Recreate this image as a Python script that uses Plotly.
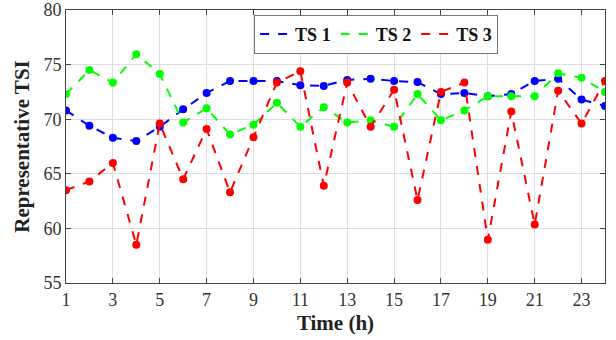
import plotly.graph_objects as go

hours = list(range(1, 25))
ts1 = [70.8, 69.4, 68.3, 68.0, 69.3, 70.9, 72.4, 73.5, 73.5, 73.5, 73.1, 73.05,
       73.6, 73.7, 73.5, 73.4, 72.3, 72.4, 72.1, 72.3, 73.5, 73.7, 71.8, 71.2]
ts2 = [72.3, 74.5, 73.35, 75.95, 74.15, 69.7, 71.0, 68.6, 69.5, 71.5, 69.3, 71.1,
       69.7, 69.9, 69.3, 72.3, 69.9, 70.8, 72.1, 72.1, 72.1, 74.2, 73.8, 72.5]
ts3 = [63.5, 64.3, 66.0, 58.5, 69.6, 64.5, 69.1, 63.3, 68.35, 73.35, 74.4, 63.9,
       73.35, 69.3, 72.7, 62.6, 72.5, 73.35, 58.95, 70.7, 60.35, 72.6, 69.6, 73.5]
names = ["TS 1", "TS 2", "TS 3"]
colors = ["#0000FF", "#00FF00", "#FF0000"]
xticks = list(range(1, 24, 2))
yticks = [55, 60, 65, 70, 75, 80]

fig = go.Figure()
for name, ys, c in zip(names, [ts1, ts2, ts3], colors):
    fig.add_trace(go.Scatter(x=hours, y=ys, mode="lines+markers", showlegend=False,
                             line=dict(color=c, width=2, dash="dash"),
                             marker=dict(color=c, size=8)))
for name, c in zip(names, colors):
    fig.add_trace(go.Scatter(x=[None], y=[None], mode="lines", name="<b>" + name + "</b>",
                             line=dict(color=c, width=2, dash="dash")))

axis_common = dict(showline=True, linecolor="#444444", linewidth=1, mirror="ticks",
                   ticks="inside", ticklen=5, tickcolor="#444444", automargin=False,
                   showgrid=True, gridcolor="#DDDDDD", gridwidth=1, zeroline=False,
                   tickfont=dict(family="Liberation Serif", size=18, color="#333333"))

fig.update_layout(
    width=616, height=340,
    margin=dict(l=66, r=11, t=10, b=57),
    paper_bgcolor="white", plot_bgcolor="white",
    xaxis=dict(range=[1, 24], tickvals=xticks,
               title=dict(text="<b>Time (h)</b>", standoff=6,
                          font=dict(family="Liberation Serif", size=21, color="#222222")),
               **axis_common),
    yaxis=dict(range=[55, 80], tickvals=yticks,
               title=dict(text="<b>Representative TSI</b>", standoff=8,
                          font=dict(family="Liberation Serif", size=21, color="#222222")),
               **axis_common),
    legend=dict(orientation="h", x=0.349, y=0.982, xanchor="left", yanchor="top",
                bgcolor="white", bordercolor="#777777", borderwidth=1,
                font=dict(family="Liberation Serif", size=18, color="#111111"),
                itemwidth=30, tracegroupgap=0),
    showlegend=True,
)
fig.write_html("out.html", config={"displayModeBar": False},
               post_script="document.body.style.margin='0px';")
